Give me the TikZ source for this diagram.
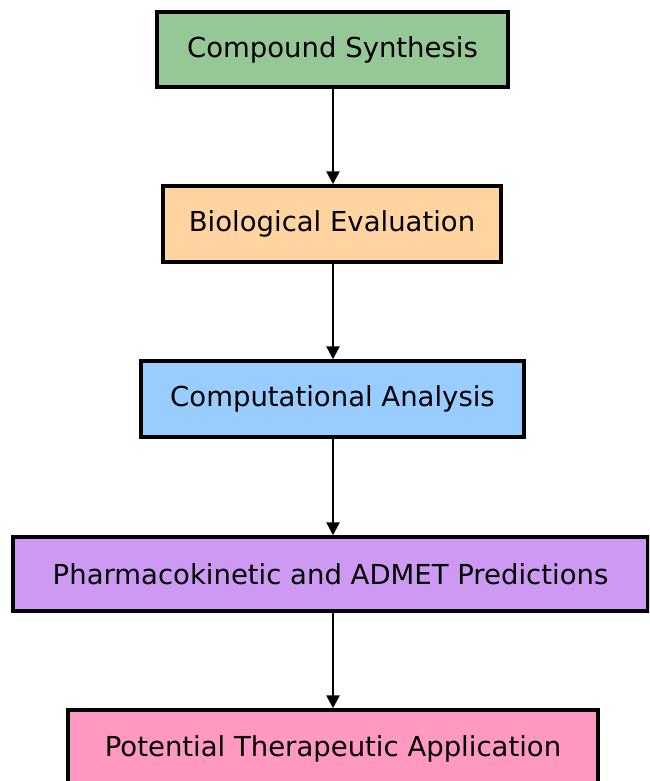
\documentclass[tikz,border=0pt]{standalone}
\usepackage{fontspec}
\setmainfont{DejaVu Sans}
\usetikzlibrary{arrows.meta}
\definecolor{cgreen}{RGB}{150,199,150}
\definecolor{corange}{RGB}{255,212,160}
\definecolor{cblue}{RGB}{153,204,255}
\definecolor{cpurple}{RGB}{206,153,242}
\definecolor{cpink}{RGB}{255,153,194}
\tikzset{
  flowbox/.style={draw=black, line width=3.5pt, rectangle, inner sep=0pt, align=center,
    font=\fontsize{27.5}{32}\selectfont, text=black},
  flowarrow/.style={draw=black, line width=2.5pt, -{Triangle[length=13pt,width=13pt]}},
}
\begin{document}
\begin{tikzpicture}[x=1pt,y=1pt]
\useasboundingbox (0,0) rectangle (649,-781);
\begin{scope}
\clip (0,0) rectangle (649,-781);
\node[flowbox, fill=cgreen, minimum width=351pt, minimum height=75pt] (a) at (332.5,-49.5) {Compound Synthesis};
\node[flowbox, fill=corange, minimum width=338pt, minimum height=76pt] (b) at (332,-224) {Biological Evaluation};
\node[flowbox, fill=cblue, minimum width=383pt, minimum height=76pt] (c) at (332.5,-399) {Computational Analysis};
\node[flowbox, fill=cpurple, minimum width=635pt, minimum height=74pt] (d) at (330.5,-574) {Pharmacokinetic and ADMET Predictions};
\node[flowbox, fill=cpink, minimum width=530pt, minimum height=82pt, text depth=10pt] (e) at (333,-751) {Potential Therapeutic Application};
\draw[flowarrow] (a.south -| 333,0) -- (b.north -| 333,0);
\draw[flowarrow] (b.south -| 333,0) -- (c.north -| 333,0);
\draw[flowarrow] (c.south -| 333,0) -- (d.north -| 333,0);
\draw[flowarrow] (d.south -| 333,0) -- (e.north -| 333,0);
\end{scope}
\end{tikzpicture}
\end{document}
